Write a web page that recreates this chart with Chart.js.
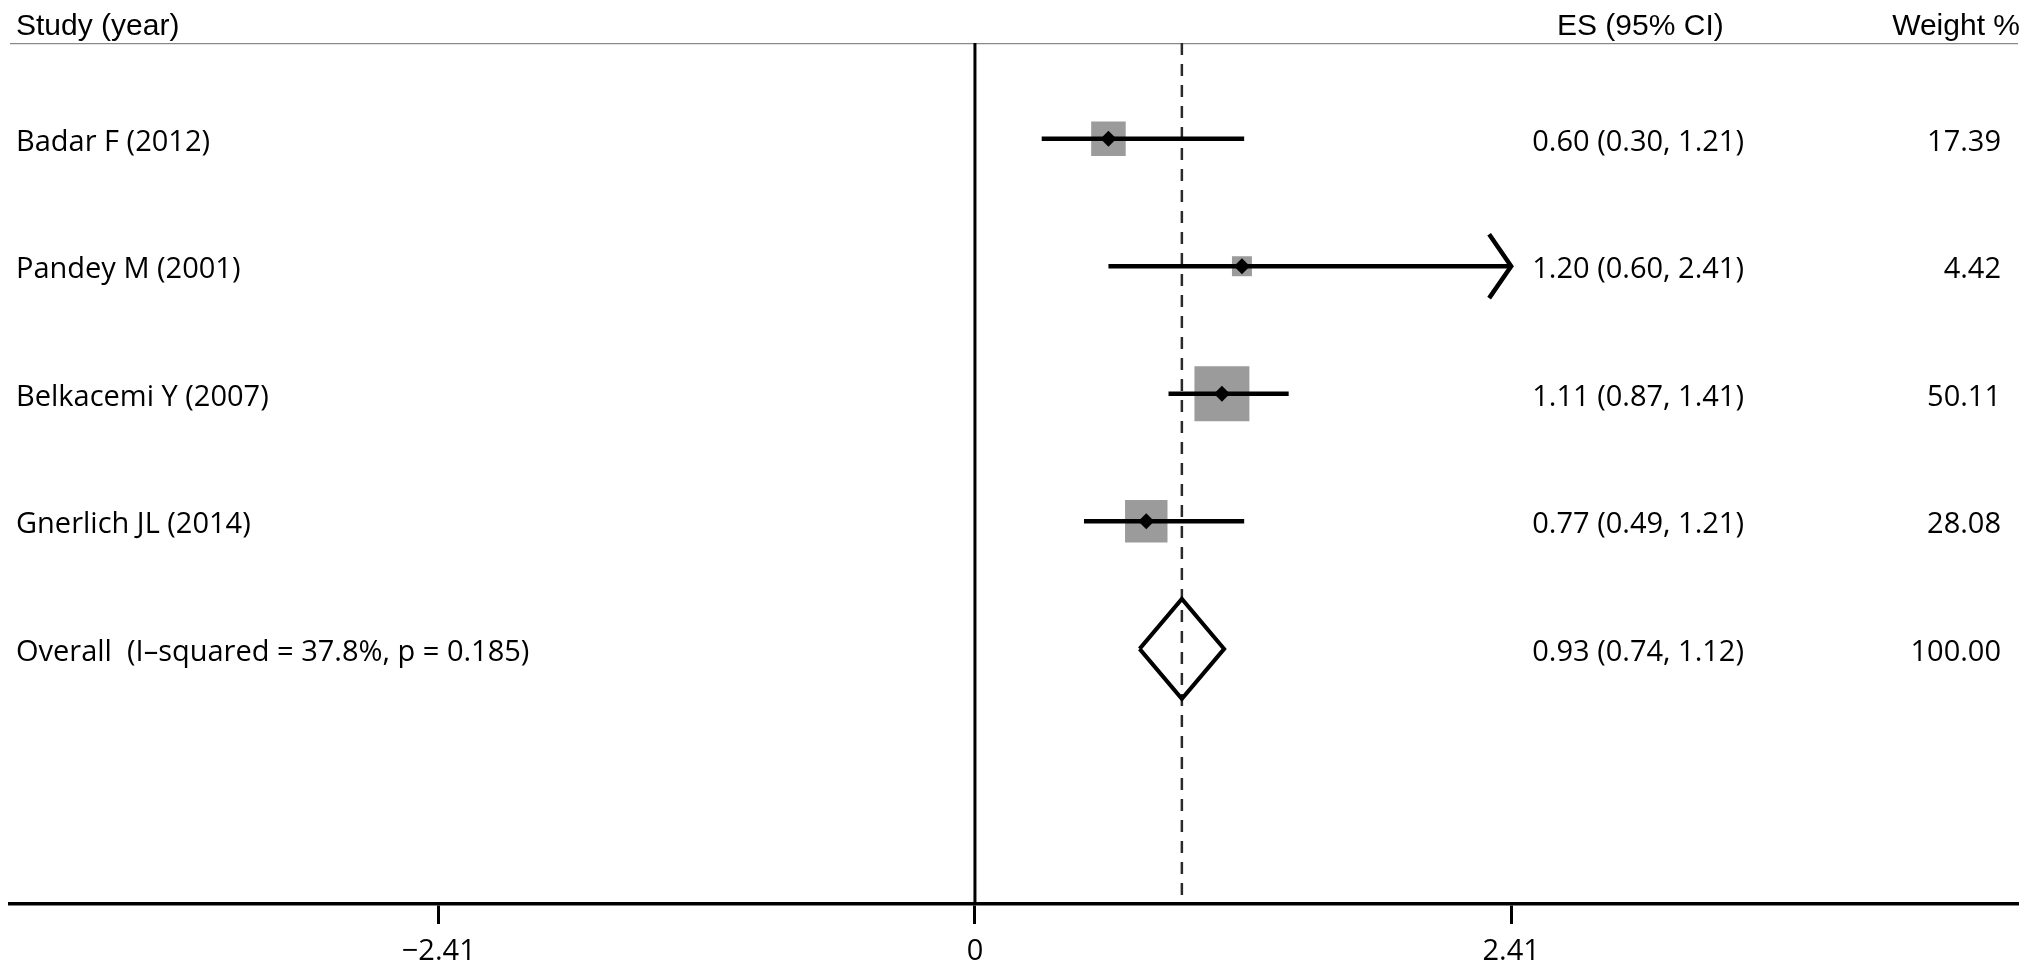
<!DOCTYPE html>
<html>
<head>
<meta charset="utf-8">
<script src="https://cdn.jsdelivr.net/npm/chart.js@4.4.1/dist/chart.umd.min.js"></script>
<style>
  html, body { margin: 0; padding: 0; background: #ffffff; }
  #wrap { width: 2031px; height: 972px; }
  canvas { display: block; }
</style>
</head>
<body>
<div id="wrap"><canvas id="c" width="2031" height="972"></canvas></div>
<script>
// ---------------- data ----------------
const studies = ["Badar F (2012)", "Pandey M (2001)", "Belkacemi Y (2007)", "Gnerlich JL (2014)"];
const es      = [0.60, 1.20, 1.11, 0.77];
const ciLow   = [0.30, 0.60, 0.87, 0.49];
const ciHigh  = [1.21, 2.41, 1.41, 1.21];
const weights = [17.39, 4.42, 50.11, 28.08];

const overallLabel  = "Overall  (I\u2013squared = 37.8%, p = 0.185)";
const overallES     = 0.93;
const overallLow    = 0.74;
const overallHigh   = 1.12;
const overallWeight = 100.00;

const tickValues = [-2.41, 0, 2.41];
const tickLabels = ["\u22122.41", "0", "2.41"];

const headerStudy  = "Study (year)";
const headerES     = "ES (95% CI)";
const headerWeight = "Weight %";

// ---------------- layout constants ----------------
const X_MIN = -4.337, X_MAX = 4.688;
const Y_MIN = 0.25, Y_MAX = 7.0;
const AXIS_CLIP = 2.41;            // upper display limit -> arrow
const DIAMOND_HALF_H = 0.392;      // overall diamond half-height (row units)
const ARROW_DX = 0.099, ARROW_DY = 0.25;

const fmt2 = v => v.toFixed(2);
const rows = studies.map((s, i) => i + 1);
const overallRow = studies.length + 1;

const esText = studies.map((s, i) => `${fmt2(es[i])} (${fmt2(ciLow[i])}, ${fmt2(ciHigh[i])})`)
  .concat([`${fmt2(overallES)} (${fmt2(overallLow)}, ${fmt2(overallHigh)})`]);
const wText = weights.map(fmt2).concat([fmt2(overallWeight)]);
const leftText = studies.concat([overallLabel]);

// ---------------- datasets ----------------
const datasets = [];

// point estimates (black diamonds) - on top
datasets.push({
  label: 'es', order: 1,
  data: rows.map((r, i) => ({ x: es[i], y: r })),
  pointStyle: 'rectRot', pointRadius: 8, pointHoverRadius: 8,
  backgroundColor: '#000', borderColor: '#000', borderWidth: 0, showLine: false
});

// CI lines
rows.forEach((r, i) => {
  const hi = Math.min(ciHigh[i], AXIS_CLIP);
  datasets.push({
    label: 'ci' + i, order: 3, showLine: true,
    data: [{ x: ciLow[i], y: r }, { x: hi, y: r }],
    borderColor: '#000', borderWidth: 4.5, pointRadius: 0, borderCapStyle: 'butt'
  });
  if (ciHigh[i] >= AXIS_CLIP) {
    datasets.push({
      label: 'arrow' + i, order: 3, showLine: true,
      data: [{ x: hi - ARROW_DX, y: r - ARROW_DY }, { x: hi, y: r }, { x: hi - ARROW_DX, y: r + ARROW_DY }],
      borderColor: '#000', borderWidth: 4.5, pointRadius: 0, borderJoinStyle: 'miter', borderCapStyle: 'butt'
    });
  }
});

// overall diamond
datasets.push({
  label: 'overall', order: 3, showLine: true, fill: false,
  data: [
    { x: overallLow, y: overallRow },
    { x: overallES, y: overallRow - DIAMOND_HALF_H },
    { x: overallHigh, y: overallRow },
    { x: overallES, y: overallRow + DIAMOND_HALF_H },
    { x: overallLow, y: overallRow }
  ],
  borderColor: '#000', borderWidth: 4, pointRadius: 0, borderJoinStyle: 'miter'
});

// overall dashed line
datasets.push({
  label: 'dash', order: 4, showLine: true,
  data: [{ x: overallES, y: Y_MIN }, { x: overallES, y: Y_MAX }],
  borderColor: '#2a2a2a', borderWidth: 2.5, borderDash: [12, 9], pointRadius: 0
});

// weight squares
datasets.push({
  label: 'weights', order: 5,
  data: rows.map((r, i) => ({ x: es[i], y: r })),
  pointStyle: 'rect',
  pointRadius: ctx => (5.2 + 7.03 * Math.sqrt(weights[ctx.dataIndex])) / Math.SQRT2,
  pointHoverRadius: ctx => (5.2 + 7.03 * Math.sqrt(weights[ctx.dataIndex])) / Math.SQRT2,
  backgroundColor: '#9b9b9b', borderWidth: 0, showLine: false
});

// null (zero) line
datasets.push({
  label: 'zero', order: 6, showLine: true,
  data: [{ x: 0, y: Y_MIN }, { x: 0, y: Y_MAX }],
  borderColor: '#000', borderWidth: 3, pointRadius: 0
});

// header rule
datasets.push({
  label: 'header', order: 7, showLine: true,
  data: [{ x: X_MIN, y: Y_MIN }, { x: X_MAX, y: Y_MIN }],
  borderColor: '#8a8a8a', borderWidth: 2.5, pointRadius: 0
});

// ---------------- plugins ----------------
const bgPlugin = {
  id: 'bg',
  beforeDraw(chart) {
    const ctx = chart.ctx;
    ctx.save();
    ctx.fillStyle = '#ffffff';
    ctx.fillRect(0, 0, chart.width, chart.height);
    ctx.restore();
  }
};

const textPlugin = {
  id: 'texts',
  afterDraw(chart) {
    const ctx = chart.ctx;
    const ys = chart.scales.y;
    ctx.save();
    ctx.fillStyle = '#000';
    ctx.textBaseline = 'alphabetic';
    // headers
    ctx.font = '30px "Liberation Sans", Arial, sans-serif';
    ctx.textAlign = 'left';
    ctx.fillText(headerStudy, 16, 35);
    ctx.fillText(headerES, 1557, 35);
    ctx.textAlign = 'right';
    ctx.fillText(headerWeight, 2020, 35);
    // rows
    ctx.font = '29px "Open Sans", sans-serif';
    leftText.forEach((t, i) => {
      const y = ys.getPixelForValue(i + 1) + 12;
      ctx.textAlign = 'left';
      ctx.fillText(t, 16, y);
      ctx.textAlign = 'right';
      ctx.fillText(esText[i], 1744, y);
      ctx.fillText(wText[i], 2001, y);
    });
    ctx.restore();
  }
};

function build() {
  new Chart(document.getElementById('c'), {
    type: 'scatter',
    data: { datasets },
    plugins: [bgPlugin, textPlugin],
    options: {
      responsive: false,
      devicePixelRatio: 1,
      animation: false,
      events: [],
      layout: { autoPadding: false, padding: { left: 10, right: 13, top: 43, bottom: 0 } },
      plugins: { legend: { display: false }, tooltip: { enabled: false } },
      scales: {
        x: {
          type: 'linear', position: 'bottom', min: X_MIN, max: X_MAX,
          afterBuildTicks: axis => { axis.ticks = tickValues.map(v => ({ value: v })); },
          afterFit: axis => { axis.paddingLeft = 0; axis.paddingRight = 0; axis.height = 68; },
          grid: { drawOnChartArea: false, drawTicks: true, tickLength: 20, tickWidth: 3, tickColor: '#000' },
          border: { display: true, color: '#000', width: 3.5 },
          ticks: {
            autoSkip: false, maxRotation: 0, padding: 10, color: '#000',
            font: { family: '"Open Sans", sans-serif', size: 29 },
            callback: (v, idx) => tickLabels[idx]
          }
        },
        y: {
          type: 'linear', min: Y_MIN, max: Y_MAX, reverse: true, display: false,
          afterFit: axis => { axis.width = 0; }
        }
      }
    }
  });
}

if (document.fonts && document.fonts.load) {
  Promise.all([
    document.fonts.load('29px "Open Sans"'),
    document.fonts.load('30px "Liberation Sans"')
  ]).then(build, build);
} else {
  build();
}
</script>
</body>
</html>
